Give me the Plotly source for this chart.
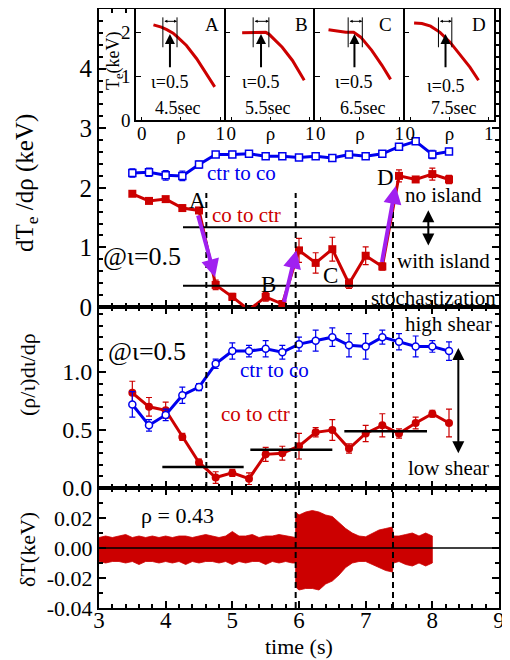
import plotly.graph_objects as go

# ---------------- data ----------------
t_pts = [3.5, 3.75, 4.0, 4.25, 4.5, 4.75, 5.0, 5.25, 5.5, 5.75, 6.0, 6.25, 6.5, 6.75, 7.0, 7.25, 7.5, 7.75, 8.0, 8.25]

grad_ctr_co = [2.25, 2.26, 2.21, 2.2, 2.39, 2.56, 2.56, 2.57, 2.53, 2.53, 2.51, 2.53, 2.5, 2.56, 2.53, 2.57, 2.69, 2.78, 2.56, 2.61]
grad_ctr_co_err = [0.07, 0.07, 0.08, 0.08, 0.06, 0.04, 0.05, 0.05, 0.04, 0.04, 0.04, 0.04, 0.04, 0.04, 0.04, 0.04, 0.05, 0.04, 0.07, 0.05]
grad_co_ctr = [1.9, 1.78, 1.81, 1.66, 1.62, 0.37, 0.17, -0.05, 0.17, 0.05, 0.95, 0.74, 0.97, 0.39, 0.86, 0.68, 2.2, 2.14, 2.23, 2.14]
grad_co_ctr_err = [0.04, 0.04, 0.04, 0.05, 0.04, 0.08, 0.06, 0.04, 0.07, 0.05, 0.2, 0.17, 0.2, 0.08, 0.15, 0.06, 0.1, 0.05, 0.1, 0.07]

shear_ctr_co = [0.72, 0.54, 0.63, 0.8, 0.87, 1.07, 1.18, 1.18, 1.2, 1.17, 1.24, 1.27, 1.3, 1.23, 1.22, 1.3, 1.26, 1.22, 1.22, 1.18]
shear_ctr_co_err = [0.11, 0.05, 0.05, 0.07, 0.03, 0.04, 0.07, 0.05, 0.07, 0.06, 0.06, 0.09, 0.08, 0.1, 0.11, 0.06, 0.07, 0.09, 0.05, 0.08]
shear_co_ctr = [0.82, 0.7, 0.67, 0.44, 0.22, 0.09, 0.13, 0.08, 0.29, 0.3, 0.36, 0.48, 0.5, 0.34, 0.47, 0.54, 0.47, 0.56, 0.64, 0.56]
shear_co_ctr_err = [0.1, 0.08, 0.07, 0.03, 0.03, 0.05, 0.03, 0.05, 0.06, 0.06, 0.11, 0.04, 0.09, 0.04, 0.07, 0.1, 0.04, 0.05, 0.03, 0.12]

# island / stochastization thresholds (top panel)
level_t_start = 4.26
level_vals = [1.34, 0.355]

# average shear bars (middle panel)
bar_t0 = [3.95, 5.27, 6.68]
bar_t1 = [5.17, 6.5, 7.92]
bar_vals = [0.18, 0.33, 0.49]

# event times (dashed lines)
event_t = [4.61, 5.95, 7.41]

# delta T envelope at rho = 0.43
sig_t = [3.0, 3.1, 3.2, 3.3, 3.4, 3.5, 3.6, 3.7, 3.8, 3.9, 4.0, 4.1, 4.2, 4.3, 4.4, 4.5, 4.6, 4.7, 4.8, 4.9,
         5.0, 5.1, 5.2, 5.3, 5.4, 5.5, 5.6, 5.7, 5.8, 5.9, 5.95, 5.95, 6.0, 6.1, 6.2, 6.3, 6.4, 6.5, 6.6, 6.7,
         6.8, 6.9, 7.0, 7.1, 7.2, 7.3, 7.4, 7.42, 7.5, 7.6, 7.7, 7.8, 7.9, 8.0]
sig_up = [0.007, 0.008, 0.007, 0.008, 0.009, 0.007, 0.008, 0.007, 0.008, 0.007, 0.008, 0.007, 0.008, 0.008, 0.007,
          0.008, 0.009, 0.008, 0.007, 0.008, 0.011, 0.008, 0.008, 0.009, 0.007, 0.008, 0.008, 0.009, 0.008, 0.007,
          0.007, 0.024, 0.022, 0.024, 0.025, 0.024, 0.022, 0.021, 0.017, 0.013, 0.01, 0.008, 0.0075, 0.01, 0.012,
          0.013, 0.014, 0.008, 0.008, 0.009, 0.01, 0.008, 0.01, 0.008]
sig_lo = [-0.009, -0.01, -0.009, -0.009, -0.01, -0.009, -0.011, -0.009, -0.009, -0.01, -0.009, -0.01, -0.009, -0.011,
          -0.009, -0.01, -0.009, -0.009, -0.01, -0.009, -0.011, -0.009, -0.01, -0.009, -0.009, -0.011, -0.009, -0.01,
          -0.009, -0.01, -0.01, -0.026, -0.028, -0.027, -0.027, -0.028, -0.024, -0.022, -0.018, -0.013, -0.01, -0.009,
          -0.009, -0.011, -0.013, -0.015, -0.016, -0.01, -0.009, -0.011, -0.012, -0.01, -0.012, -0.01]

# inset Te profiles
inset_labels = ["A", "B", "C", "D"]
inset_times = ["4.5sec", "5.5sec", "6.5sec", "7.5sec"]
rho_A = [0.15, 0.25, 0.32, 0.4, 0.45, 0.57, 0.7, 0.82, 0.93]
te_A = [2.17, 2.12, 2.06, 1.98, 1.9, 1.7, 1.4, 1.08, 0.76]
rho_B = [0.14, 0.3, 0.44, 0.48, 0.65, 0.78, 0.86, 0.93]
te_B = [1.99, 2.0, 2.0, 1.96, 1.66, 1.36, 1.13, 0.91]
rho_C = [0.1, 0.32, 0.42, 0.51, 0.65, 0.78, 0.89]
te_C = [2.06, 2.0, 2.0, 1.89, 1.59, 1.25, 0.93]
rho_D = [0.05, 0.15, 0.26, 0.38, 0.51, 0.64, 0.76, 0.87]
te_D = [2.21, 2.2, 2.14, 2.0, 1.77, 1.47, 1.21, 0.91]
inset_rho = [rho_A, rho_B, rho_C, rho_D]
inset_te = [te_A, te_B, te_C, te_D]
iota_rho = [0.36, 0.38, 0.43, 0.45]
island_left = [0.27, 0.28, 0.35, 0.36]
island_right = [0.45, 0.48, 0.53, 0.53]
time_text_rho = [0.46, 0.46, 0.53, 0.55]
letter_rho = [0.89, 0.89, 0.82, 0.87]
iota_text_te = [0.87, 0.87, 0.87, 0.77]

# ---------------- style ----------------
FONT = "Liberation Serif"
RED = "#CC0000"
BLUE = "#0000EE"
PURPLE = "#A020F0"

# page offset of the figure (default body margin) -> figure sized to fill the window
OFF = 8
PLOT_L, PLOT_R, PLOT_T, PLOT_B = 99, 499, 9, 608   # plot area in page pixels


def px(xp):
    return (xp - PLOT_L) / (PLOT_R - PLOT_L)


def py(yp):
    return (PLOT_B - yp) / (PLOT_B - PLOT_T)


fig = go.Figure()

# bottom panel signal envelope
fig.add_trace(go.Scatter(x=sig_t + sig_t[::-1], y=sig_up + sig_lo[::-1], fill="toself",
                         fillcolor=RED, line=dict(color=RED, width=0.8), mode="lines",
                         xaxis="x", yaxis="y", hoverinfo="skip"))

# middle panel
fig.add_trace(go.Scatter(x=t_pts, y=shear_co_ctr, mode="lines+markers", xaxis="x2", yaxis="y2",
                         line=dict(color=RED, width=3),
                         marker=dict(symbol="circle", size=8, color=RED),
                         error_y=dict(type="data", array=shear_co_ctr_err, color=RED, thickness=1.2, width=3),
                         cliponaxis=False))
fig.add_trace(go.Scatter(x=t_pts, y=shear_ctr_co, mode="lines+markers", xaxis="x2", yaxis="y2",
                         line=dict(color=BLUE, width=3),
                         marker=dict(symbol="circle", size=7, color="white", line=dict(color=BLUE, width=1.5)),
                         error_y=dict(type="data", array=shear_ctr_co_err, color=BLUE, thickness=1.2, width=3),
                         cliponaxis=False))

# top panel
fig.add_trace(go.Scatter(x=t_pts, y=grad_co_ctr, mode="lines+markers", xaxis="x3", yaxis="y3",
                         line=dict(color=RED, width=3),
                         marker=dict(symbol="square", size=8, color=RED),
                         error_y=dict(type="data", array=grad_co_ctr_err, color=RED, thickness=1.2, width=3),
                         cliponaxis=False))
fig.add_trace(go.Scatter(x=t_pts, y=grad_ctr_co, mode="lines+markers", xaxis="x3", yaxis="y3",
                         line=dict(color=BLUE, width=3),
                         marker=dict(symbol="square", size=7, color="white", line=dict(color=BLUE, width=1.5)),
                         error_y=dict(type="data", array=grad_ctr_co_err, color=BLUE, thickness=1.2, width=3),
                         cliponaxis=False))

# insets
for i in range(4):
    fig.add_trace(go.Scatter(x=inset_rho[i], y=inset_te[i], mode="lines", xaxis=f"x{4+i}", yaxis=f"y{4+i}",
                             line=dict(color=RED, width=3)))

# ---------------- axes ----------------
common = dict(showline=True, linecolor="black", linewidth=2, mirror="ticks", ticks="inside",
              tickcolor="black", ticklen=7, tickwidth=1.5, showgrid=False, zeroline=False,
              automargin=False)

x_common = dict(common, range=[3, 9], dtick=1, tick0=3,
                tickfont=dict(family=FONT, size=23, color="black"), ticklabelstandoff=-10,
                minor=dict(ticks="inside", ticklen=4, tickcolor="black", dtick=0.2, tick0=3))

d_bot = py(488)
d_mid = py(307)

layout = dict(
    width=510 - OFF, height=660 - OFF,
    margin=dict(l=PLOT_L - OFF, r=510 - PLOT_R, t=PLOT_T - OFF, b=660 - PLOT_B),
    paper_bgcolor="white", plot_bgcolor="white",
    showlegend=False,
    font=dict(family=FONT, color="black"),
    xaxis=dict(x_common, domain=[0, 1], anchor="y"),
    yaxis=dict(common, domain=[0, d_bot], anchor="x", range=[-0.04, 0.04],
               tickvals=[-0.04, -0.02, 0, 0.02], ticktext=["-0.04", "-0.02", "0.00", "0.02"],
               tickfont=dict(family=FONT, size=22, color="black"),
               minor=dict(ticks="inside", ticklen=4, tickcolor="black", dtick=0.01, tick0=0)),
    xaxis2=dict(x_common, domain=[0, 1], anchor="y2", matches="x", showticklabels=False),
    yaxis2=dict(common, domain=[d_bot, d_mid], anchor="x2", range=[0, 1.56],
                tickvals=[0, 0.5, 1.0], ticktext=["0.0", "0.5", "1.0"],
                tickfont=dict(family=FONT, size=24, color="black"),
                minor=dict(ticks="inside", ticklen=4, tickcolor="black", dtick=0.1, tick0=0)),
    xaxis3=dict(x_common, domain=[0, 1], anchor="y3", matches="x", showticklabels=False),
    yaxis3=dict(common, domain=[d_mid, 1], anchor="x3", range=[0, 5],
                tickvals=[0, 1, 2, 3, 4],
                tickfont=dict(family=FONT, size=25, color="black"),
                minor=dict(ticks="inside", ticklen=4, tickcolor="black", dtick=0.2, tick0=0)),
)

# inset domains (page pixels)
inset_px = [136, 225.5, 315, 404.5, 494]
inset_bottom = py(120.3)
for i in range(4):
    layout[f"xaxis{4+i}"] = dict(domain=[px(inset_px[i]), px(inset_px[i + 1])], anchor=f"y{4+i}",
                                 range=[-0.072, 1.067],
                                 showline=True, linecolor="black", linewidth=1.5, mirror=True,
                                 ticks="inside", ticklen=4, tickcolor="black",
                                 tickvals=[0, 0.5, 1], ticktext=["0", "ρ", "1"],
                                 tickfont=dict(family=FONT, size=19, color="black"), ticklabelstandoff=-5,
                                 showgrid=False, zeroline=False, automargin=False)
    layout[f"yaxis{4+i}"] = dict(domain=[inset_bottom, 1], anchor=f"x{4+i}", range=[0, 2.53],
                                 showline=True, linecolor="black", linewidth=1.5, mirror=True,
                                 ticks="inside", ticklen=5, tickcolor="black",
                                 tickvals=[0, 1, 2], showticklabels=(i == 0),
                                 tickfont=dict(family=FONT, size=19, color="black"),
                                 showgrid=False, zeroline=False, automargin=False)

fig.update_layout(**layout)

# ---------------- shapes ----------------
shapes = []
shapes.append(dict(type="line", xref="x domain", yref="y", x0=0, x1=1, y0=0, y1=0,
                   line=dict(color="black", width=1.5)))
for v in level_vals:
    shapes.append(dict(type="line", xref="x3", yref="y3", x0=level_t_start, x1=9, y0=v, y1=v,
                       line=dict(color="black", width=2)))
for a, b, v in zip(bar_t0, bar_t1, bar_vals):
    shapes.append(dict(type="line", xref="x2", yref="y2", x0=a, x1=b, y0=v, y1=v,
                       line=dict(color="black", width=2.5)))
top_frac = py(193)
for k, t in enumerate(event_t):
    y0 = d_bot if k == 0 else 0.0
    shapes.append(dict(type="line", xref="x", yref="paper", x0=t, x1=t, y0=y0, y1=top_frac,
                       line=dict(color="black", width=2, dash="6px,4px")))
for i in range(4):
    for r in (island_left[i], island_right[i]):
        shapes.append(dict(type="line", xref=f"x{4+i}", yref=f"y{4+i}", x0=r, x1=r, y0=1.66, y1=2.34,
                           line=dict(color="black", width=1)))
fig.update_layout(shapes=shapes)

# ---------------- annotations ----------------
ann = []


def txt(x, y, s, xr, yr, size, color="black", **kw):
    ann.append(dict(x=x, y=y, text=s, xref=xr, yref=yr, showarrow=False,
                    xanchor="center", yanchor="middle",
                    font=dict(family=FONT, size=size, color=color), **kw))


# top panel texts
txt(4.47, 1.78, "A", "x3", "y3", 23)
txt(5.54, 0.37, "B", "x3", "y3", 23)
txt(6.47, 0.53, "C", "x3", "y3", 23)
txt(7.29, 2.17, "D", "x3", "y3", 23)
txt(5.13, 2.25, "ctr to co", "x3", "y3", 21, BLUE)
txt(5.21, 1.55, "co to ctr", "x3", "y3", 21, RED)
txt(8.16, 1.88, "no island", "x3", "y3", 21)
txt(8.16, 0.78, "with island", "x3", "y3", 21)
txt(8.02, 0.15, "stochastization", "x3", "y3", 21)
txt(3.64, 0.84, "@ι=0.5", "x3", "y3", 26)

# middle panel texts
txt(3.72, 1.175, "@ι=0.5", "x2", "y2", 26)
txt(5.63, 1.02, "ctr to co", "x2", "y2", 21, BLUE)
txt(5.35, 0.64, "co to ctr", "x2", "y2", 21, RED)
txt(8.24, 1.41, "high shear", "x2", "y2", 21)
txt(8.24, 0.17, "low shear", "x2", "y2", 21)

# bottom panel
txt(4.17, 0.022, "ρ = 0.43", "x", "y", 22)

# axis titles
txt(px(27), py(183), "dT<sub>e</sub> /dρ (keV)", "paper", "paper", 25, textangle=-90)
txt(px(27), py(375), "(ρ/ι)dι/dρ", "paper", "paper", 22, textangle=-90)
txt(px(27), py(550), "δT(keV)", "paper", "paper", 22, textangle=-90)
txt(px(115), py(61), "T<sub>e</sub>(keV)", "paper", "paper", 18, textangle=-90)
txt(0.5, py(646), "time (s)", "paper", "paper", 22)

# purple arrows
for (tx, ty, hx, hy) in [(4.48, 1.56, 4.74, 0.5), (5.77, 0.06, 5.96, 0.95), (7.24, 0.73, 7.45, 2.03)]:
    ann.append(dict(x=hx, y=hy, ax=tx, ay=ty, xref="x3", yref="y3", axref="x3", ayref="y3",
                    showarrow=True, arrowhead=2, arrowsize=0.9, arrowwidth=4, arrowcolor=PURPLE, text=""))

# double arrows
ann.append(dict(x=7.94, y=1.03, ax=7.94, ay=1.65, xref="x3", yref="y3", axref="x3", ayref="y3",
                showarrow=True, arrowhead=2, startarrowhead=2, arrowside="end+start", arrowsize=1.2,
                arrowwidth=2, arrowcolor="black", text=""))
ann.append(dict(x=8.39, y=0.30, ax=8.39, ay=1.22, xref="x2", yref="y2", axref="x2", ayref="y2",
                showarrow=True, arrowhead=2, startarrowhead=2, arrowside="end+start", arrowsize=1.2,
                arrowwidth=2, arrowcolor="black", text=""))

# inset annotations
for i in range(4):
    xr, yr = f"x{4+i}", f"y{4+i}"
    txt(letter_rho[i], 2.17, inset_labels[i], xr, yr, 19)
    txt(iota_rho[i], iota_text_te[i], "ι=0.5", xr, yr, 18)
    txt(time_text_rho[i], 0.27, inset_times[i], xr, yr, 18)
    ann.append(dict(x=iota_rho[i], y=1.96, ax=iota_rho[i], ay=1.17, xref=xr, yref=yr, axref=xr, ayref=yr,
                    showarrow=True, arrowhead=2, arrowsize=1, arrowwidth=2, arrowcolor="black", text=""))
    ann.append(dict(x=island_right[i], y=2.25, ax=island_left[i], ay=2.25, xref=xr, yref=yr, axref=xr,
                    ayref=yr, showarrow=True, arrowhead=2, startarrowhead=2, arrowside="end+start",
                    arrowsize=0.6, arrowwidth=1, arrowcolor="black", text=""))

fig.update_layout(annotations=ann)

fig.write_html("out.html")
